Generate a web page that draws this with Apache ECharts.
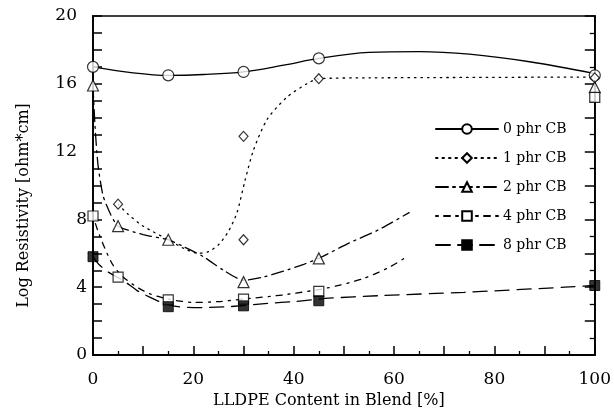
<!DOCTYPE html>
<html>
<head>
<meta charset="utf-8">
<script src="https://cdn.jsdelivr.net/npm/echarts@6/dist/echarts.min.js"></script>
<style>
  html, body { margin: 0; padding: 0; background: #fff; }
  #chart { width: 614px; height: 418px; }
</style>
</head>
<body>
<div id="chart"></div>
<script>
// measured points (LLDPE %, log resistivity)
var names = ['0 phr CB', '1 phr CB', '2 phr CB', '4 phr CB', '8 phr CB'];

var pts0 = [[0, 17.0], [15, 16.5], [30, 16.7], [45, 17.5], [100, 16.5]];
var pts1 = [[5, 8.9], [30, 12.9], [30, 6.8], [45, 16.3], [100, 16.35]];
var pts2 = [[0, 15.9], [5, 7.6], [15, 6.8], [30, 4.3], [45, 5.7], [100, 15.8]];
var pts4 = [[0, 8.2], [5, 4.6], [15, 3.25], [30, 3.3], [45, 3.75], [100, 15.2]];
var pts8 = [[0, 5.8], [15, 2.85], [30, 2.9], [45, 3.2], [100, 4.1]];

// hand-drawn trend curves
var curve0 = [[0, 17.0], [8, 16.65], [15, 16.5], [22, 16.55], [30, 16.7], [38, 17.1], [45, 17.5],
  [55, 17.85], [65, 17.9], [75, 17.75], [87, 17.3], [100, 16.6]];
var curve1 = [[5, 8.9], [7, 8.3], [10, 7.6], [15, 6.8], [18, 6.3], [21, 6.0], [23, 6.1], [25, 6.5],
  [27, 7.3], [28.7, 8.4], [30.3, 10.3], [32, 12.1], [34.7, 13.9], [38.6, 15.2], [42.6, 16.0],
  [45, 16.3], [55, 16.35], [100, 16.4]];
var curve2 = [[0, 15.9], [0.4, 13.5], [1, 11.2], [2, 9.4], [3.5, 8.3], [5, 7.6], [10, 7.1], [15, 6.8],
  [18, 6.4], [22, 5.8], [26, 5.0], [30, 4.4], [34, 4.6], [38, 4.95], [42, 5.35], [45, 5.7],
  [51, 6.6], [57, 7.4], [63, 8.4]];
var curve4 = [[0, 8.2], [1, 7.3], [2.5, 6.2], [4, 5.3], [6, 4.6], [8.8, 4.0], [11.4, 3.6], [15, 3.3],
  [20, 3.1], [25, 3.15], [30, 3.3], [38, 3.55], [46.6, 3.95], [53.8, 4.5], [59.2, 5.2], [62, 5.7]];
var curve8 = [[0, 5.8], [1, 5.4], [3, 4.9], [6, 4.4], [8.8, 3.8], [11.4, 3.4], [13.7, 3.1], [17, 2.85],
  [22, 2.8], [27, 2.85], [35, 3.05], [40, 3.15], [47, 3.35], [57, 3.5], [74, 3.7], [94, 4.0], [100, 4.1]];

var yTicks = [0, 4, 8, 12, 16, 20];
var xTicks = [0, 20, 40, 60, 80, 100];

var serif = 'DejaVu Serif';
var open = { color: '#fff', borderColor: '#000', borderWidth: 1.2 };
var filled = { color: '#000', borderColor: '#000', borderWidth: 1 };

var styles = [
  { pts: pts0, curve: curve0, symbol: 'circle', size: 11, item: open, dash: 'solid', smooth: 0.35 },
  { pts: pts1, curve: curve1, symbol: 'diamond', size: [9, 10], item: open, dash: [1.5, 5], smooth: 0.25 },
  { pts: pts2, curve: curve2, symbol: 'triangle', size: 11, item: open, dash: [12, 5, 2, 5], smooth: 0.2 },
  { pts: pts4, curve: curve4, symbol: 'rect', size: 10, item: open, dash: [2, 6, 6, 6], smooth: 0.25 },
  { pts: pts8, curve: curve8, symbol: 'rect', size: 10, item: filled, dash: [14, 8], smooth: 0.25 }
];

var series = [];
styles.forEach(function (s, i) {
  series.push({
    name: names[i],
    type: 'line',
    data: s.curve,
    smooth: s.smooth,
    showSymbol: false,
    symbol: s.symbol,
    itemStyle: s.item,
    lineStyle: { color: '#000', width: 1.3, type: s.dash, cap: 'round' },
    silent: true,
    z: 2
  });
  series.push({
    name: names[i],
    type: 'scatter',
    data: s.pts,
    symbol: s.symbol,
    symbolSize: s.size,
    itemStyle: s.item,
    clip: false,
    z: 3
  });
});

var chart = echarts.init(document.getElementById('chart'));
chart.setOption({
  backgroundColor: '#fff',
  animation: false,
  grid: { left: 93, right: 19, top: 16, bottom: 63, show: true, borderColor: '#000', borderWidth: 1.5 },
  legend: {
    data: names,
    orient: 'vertical',
    left: 430,
    top: 117,
    itemWidth: 62,
    itemHeight: 12,
    itemGap: 15,
    textStyle: { fontFamily: serif, fontSize: 14, color: '#000' }
  },
  xAxis: [{
    type: 'value',
    min: 0,
    max: 100,
    interval: 10,
    name: 'LLDPE Content in Blend [%]',
    nameLocation: 'middle',
    nameGap: 33,
    nameTextStyle: { fontFamily: serif, fontSize: 16, color: '#000', padding: [0, 30, 0, 0] },
    axisLine: { lineStyle: { color: '#000', width: 1.8 } },
    axisTick: { inside: true, length: 9, lineStyle: { color: '#000', width: 1.5 } },
    minorTick: { show: true, splitNumber: 2, length: 4, lineStyle: { color: '#000', width: 1.3 } },
    splitLine: { show: false },
    axisLabel: {
      margin: 16,
      fontFamily: serif,
      fontSize: 17,
      color: '#000',
      formatter: function (v) { return xTicks.indexOf(v) >= 0 ? String(v) : ''; }
    }
  }],
  yAxis: [{
    type: 'value',
    min: 0,
    max: 20,
    interval: 4,
    name: 'Log Resistivity [ohm*cm]',
    nameLocation: 'middle',
    nameGap: 61,
    nameTextStyle: { fontFamily: serif, fontSize: 16, color: '#000', padding: [0, 40, 0, 0] },
    axisLine: { lineStyle: { color: '#000', width: 1.8 } },
    axisTick: { inside: true, length: 9, lineStyle: { color: '#000', width: 1.5 } },
    minorTick: { show: true, splitNumber: 4, length: 9, lineStyle: { color: '#000', width: 1.5 } },
    splitLine: { show: false },
    axisLabel: {
      margin: 6,
      fontFamily: serif,
      fontSize: 17,
      color: '#000',
      formatter: function (v) {
        if (yTicks.indexOf(v) < 0) return '';
        return v >= 10 ? '{w|' + v + '}' : String(v);
      },
      rich: { w: { fontFamily: serif, fontSize: 17, color: '#000', padding: [0, 10, 0, 0] } }
    }
  }, {
    type: 'value',
    position: 'right',
    min: 0,
    max: 20,
    interval: 2,
    axisLine: { show: true, lineStyle: { color: '#000', width: 1.8 } },
    axisTick: { inside: true, length: 10, lineStyle: { color: '#000', width: 1.5 } },
    minorTick: { show: true, splitNumber: 2, length: 5, lineStyle: { color: '#000', width: 1.3 } },
    splitLine: { show: false },
    axisLabel: { show: false }
  }],
  series: series
});
</script>
</body>
</html>
